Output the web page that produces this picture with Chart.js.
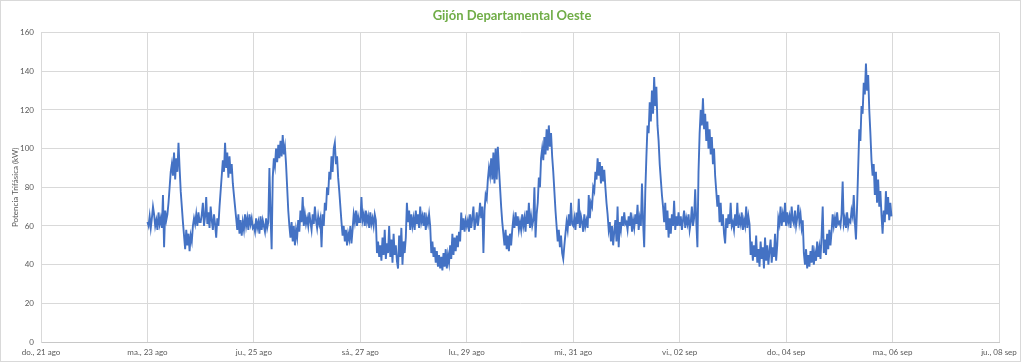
<!DOCTYPE html>
<html>
<head>
<meta charset="utf-8">
<script src="https://cdn.jsdelivr.net/npm/chart.js@4.4.1/dist/chart.umd.min.js"></script>
<style>
  html, body { margin: 0; padding: 0; background: #fff; }
  #wrap { width: 1024px; height: 363px; }
</style>
</head>
<body>
<div id="wrap"><canvas id="chart" width="1024" height="363"></canvas></div>
<script>
// x axis: days counted from do., 21 ago 00:00 ; one reading every 30 min
const tickLabels = ['do., 21 ago', 'ma., 23 ago', 'ju., 25 ago', 'sá., 27 ago', 'lu., 29 ago',
                    'mi., 31 ago', 'vi., 02 sep', 'do., 04 sep', 'ma., 06 sep', 'ju., 08 sep'];
const firstDay = 2;        // data starts ma., 23 ago
const readingsPerDay = 48;

// potencia trifásica (kW), 30 min readings, one array per day
const ago23 = [62,60,65,59,64,70,66,60,63,58,67,61,64,59,76,49,
               68,63,66,72,80,88,92,86,98,84,95,88,103,90,78,70,
               62,55,48,58,50,56,47,55,52,60,64,61,66,60,67,62];
const ago24 = [62,66,72,60,65,75,61,67,59,70,63,58,66,61,54,64,
               60,70,78,86,94,88,103,90,98,85,96,87,92,82,76,70,
               64,58,66,56,63,55,62,58,66,60,64,58,66,61,64,59];
const ago25 = [60,57,64,59,62,56,65,58,63,60,57,64,59,62,90,66,
               48,85,95,91,100,93,102,95,104,96,107,97,101,92,80,68,
               60,54,62,52,60,50,58,54,63,57,68,62,75,60,66,61];
const ago26 = [64,60,67,62,58,66,61,70,63,59,65,61,64,49,66,60,
               72,68,80,76,88,84,96,88,100,103,92,96,85,78,70,62,
               55,60,52,58,50,56,53,60,51,58,66,62,68,60,65,62];
const ago27 = [62,75,63,66,60,68,62,65,59,67,61,64,60,66,63,46,
               52,44,50,42,54,45,58,43,51,46,60,44,53,41,56,45,
               50,42,38,55,44,59,40,52,46,54,72,62,68,58,66,60];
const ago28 = [64,58,68,61,66,59,70,62,65,60,67,58,64,61,66,60,
               46,52,44,49,41,47,39,45,38,44,37,46,39,48,38,45,
               41,50,43,56,45,54,47,55,49,57,52,67,58,64,57,63];
const ago29 = [60,63,57,66,59,64,70,58,62,67,60,65,72,64,70,46,
               68,76,74,84,90,86,95,84,98,82,100,84,101,90,80,70,
               62,56,50,58,48,55,47,56,50,58,64,59,67,60,65,58];
const ago30 = [62,58,66,60,64,57,68,61,72,59,65,60,63,80,54,66,
               72,85,80,95,100,94,106,97,110,99,112,101,108,96,88,78,
               68,60,52,58,49,55,46,43,50,56,62,58,66,60,72,61];
const ago31 = [60,64,58,67,61,74,59,65,62,57,66,60,63,59,76,64,
               72,70,80,78,88,84,95,86,93,82,91,83,89,80,72,66,
               58,62,52,60,50,57,63,52,70,49,62,58,65,60,67,61];
const sep01 = [62,58,65,60,67,57,63,59,66,61,71,58,64,60,82,62,
               49,78,96,112,108,124,114,130,118,137,122,132,112,104,92,84,
               76,70,62,72,58,68,54,64,56,66,60,73,58,65,60,67];
const sep02 = [60,65,58,63,68,59,64,61,66,58,62,70,60,64,79,62,
               49,88,108,120,112,126,110,118,104,114,100,110,97,106,92,100,
               86,78,70,76,62,72,60,66,56,51,64,59,66,61,72,60];
const sep03 = [62,58,66,60,72,59,64,61,67,58,63,60,70,59,65,61,
               45,52,42,50,44,55,41,48,39,52,43,49,38,54,42,50,
               40,47,53,41,49,44,56,42,50,64,61,70,60,66,62,72];
const sep04 = [60,67,62,65,59,70,63,61,68,60,64,71,62,66,59,63,
               46,40,48,38,45,39,47,41,50,40,46,42,52,44,49,43,
               55,70,46,53,45,56,48,58,50,57,66,60,64,59,67,61];
const sep05 = [62,60,66,83,61,64,59,67,60,63,62,68,65,76,62,53,
               70,90,110,104,122,118,134,128,144,130,138,120,108,94,86,92,
               76,88,72,84,70,78,66,56,68,62,78,66,75,63,72,65];

const days = [ago23, ago24, ago25, ago26, ago27, ago28, ago29, ago30, ago31, sep01, sep02, sep03, sep04, sep05];

const points = [];
days.forEach((vals, d) => {
    vals.forEach((v, i) => {
        points.push({ x: firstDay + d + i / readingsPerDay, y: v });
    });
});

const tickFont = { family: 'Lato', size: 8 };

// thin border around the whole chart area (excel style)
const frame = {
    id: 'frame',
    beforeDraw(chart) {
        const ctx = chart.ctx;
        ctx.save();
        ctx.fillStyle = '#fff';
        ctx.fillRect(0, 0, chart.width, chart.height);
        ctx.strokeStyle = '#d9d9d9';
        ctx.lineWidth = 1;
        ctx.strokeRect(0.5, 0.5, 1020, 361);
        ctx.restore();
    }
};

new Chart(document.getElementById('chart'), {
    type: 'line',
    data: {
        datasets: [{
            label: 'Potencia Trifásica (kW)',
            data: points,
            borderColor: '#4472C4',
            borderWidth: 1.9,
            pointRadius: 0,
            tension: 0
        }]
    },
    options: {
        responsive: false,
        animation: false,
        parsing: false,
        layout: { padding: 0 },
        plugins: {
            legend: { display: false },
            tooltip: { enabled: false },
            title: {
                display: true,
                text: 'Gijón Departamental Oeste',
                color: '#70AD47',
                font: { family: 'Lato', size: 13, weight: 'bold' },
                padding: { top: 8, bottom: 9 }
            }
        },
        scales: {
            x: {
                type: 'linear',
                min: 0,
                max: 18,
                // keep title centred on the canvas, plot ends at ~999px
                afterFit: (s) => { s.height = 21; s.paddingRight = 25; },
                ticks: {
                    stepSize: 2,
                    autoSkip: false,
                    maxRotation: 0,
                    color: '#595959',
                    font: tickFont,
                    padding: 6,
                    callback: (v) => tickLabels[v / 2]
                },
                grid: { color: '#d9d9d9', drawTicks: false },
                border: { color: '#c8c8c8' }
            },
            y: {
                min: 0,
                max: 160,
                afterFit: (s) => { s.width = 41; },
                ticks: {
                    stepSize: 20,
                    color: '#595959',
                    font: tickFont,
                    padding: 7
                },
                grid: { color: '#d9d9d9', drawTicks: false },
                border: { color: '#d9d9d9' },
                title: {
                    display: true,
                    text: 'Potencia Trifásica (kW)',
                    color: '#595959',
                    font: tickFont,
                    padding: { top: 11, bottom: 0 }
                }
            }
        }
    },
    plugins: [frame]
});
</script>
</body>
</html>
